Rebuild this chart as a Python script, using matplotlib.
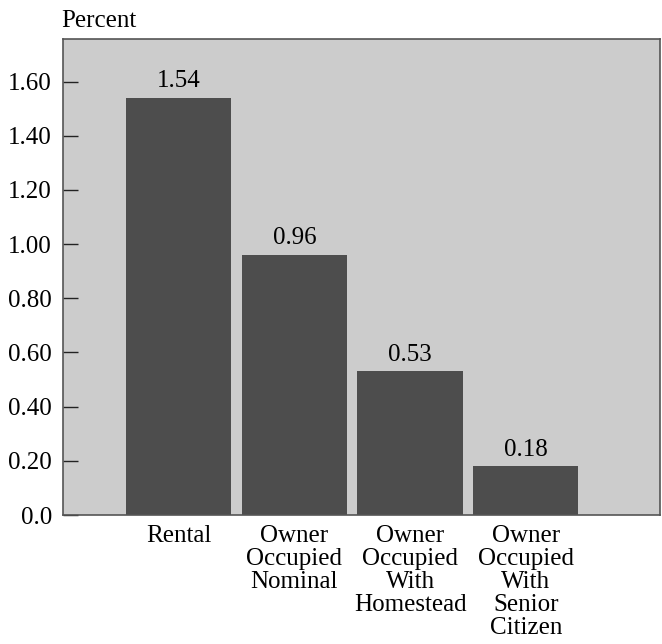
import numpy as np
import matplotlib.pyplot as plt

plt.rcParams['font.family'] = ['Liberation Serif', 'DejaVu Serif']

categories = ['Rental', 'Owner\nOccupied\nNominal', 'Owner\nOccupied\nWith\nHomestead',
              'Owner\nOccupied\nWith\nSenior\nCitizen']
rates = [1.54, 0.96, 0.53, 0.18]
ytick_vals = [0.0, 0.20, 0.40, 0.60, 0.80, 1.00, 1.20, 1.40, 1.60]
ytick_labels = ['0.0', '0.20', '0.40', '0.60', '0.80', '1.00', '1.20', '1.40', '1.60']

fig = plt.figure(figsize=(6.62, 6.44), dpi=100)
ax = fig.add_axes([63 / 662, 1 - 515 / 644, 597 / 662, 476 / 644])
ax.set_facecolor('#cccccc')

x = np.arange(len(rates))
ax.bar(x, rates, width=0.91, color='#4d4d4d', zorder=2)

# value labels above each bar
for xi, v in zip(x, rates):
    ax.annotate('%.2f' % v, (xi, v), xytext=(0, 4), textcoords='offset points',
                ha='center', va='bottom', fontsize=18)

ax.set_xlim(-1.0, 4.16)
ax.set_ylim(0, 1.757)
ax.set_yticks(ytick_vals)
ax.set_yticklabels(ytick_labels)
ax.set_xticks(x)
ax.set_xticklabels(categories, linespacing=1.06)
ax.tick_params(axis='y', direction='in', length=11, width=1, color='#222222',
               labelsize=18, pad=8)
ax.tick_params(axis='x', length=0, labelsize=18, pad=7.5)

for s in ax.spines.values():
    s.set_color('#555555')
    s.set_linewidth(1.2)

fig.text(61 / 662, 1 - 27 / 644, 'Percent', fontsize=18, ha='left', va='baseline')

fig.savefig('out.png', dpi=100)
